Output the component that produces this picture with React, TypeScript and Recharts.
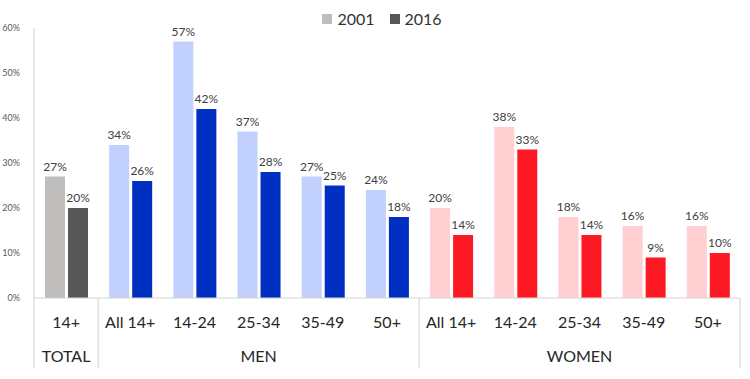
import React from 'react';
import { BarChart, Bar, XAxis, YAxis, Cell, LabelList } from 'recharts';

const categories = ['14+', 'All 14+', '14-24', '25-34', '35-49', '50+', 'All 14+', '14-24', '25-34', '35-49', '50+'];
const groupOfCategory = ['TOTAL', 'MEN', 'MEN', 'MEN', 'MEN', 'MEN', 'WOMEN', 'WOMEN', 'WOMEN', 'WOMEN', 'WOMEN'];
const values2001 = [27, 34, 57, 37, 27, 24, 20, 38, 18, 16, 16];
const values2016 = [20, 26, 42, 28, 25, 18, 14, 33, 14, 9, 10];
const yTicks = [0, 10, 20, 30, 40, 50, 60];
const seriesNames = ['2001', '2016'];
const groupLabelIndex: Record<number, string> = { 0: 'TOTAL', 3: 'MEN', 8: 'WOMEN' };
const dividerLeftIndexes = [0, 1, 6];

const colors2001: Record<string, string> = { TOTAL: '#bfbebd', MEN: '#c1d0fd', WOMEN: '#ffcfd2' };
const colors2016: Record<string, string> = { TOTAL: '#585756', MEN: '#0030c2', WOMEN: '#fe1a24' };

const data = categories.map((c, i) => ({
  id: `c${i}`,
  label: c,
  group: groupOfCategory[i],
  y2001: values2001[i],
  y2016: values2016[i],
}));

const FONT = 'Lato, "Open Sans", sans-serif';

const CategoryTick = (props: any) => {
  const { x, y, payload } = props;
  const index: number = payload.index;
  const off: number = payload.offset ?? 32;
  const lines: React.ReactNode[] = [];
  if (dividerLeftIndexes.includes(index)) {
    lines.push(<line key="l" x1={x - off} x2={x - off} y1={y} y2={y + 70} stroke="#cfcfcf" strokeWidth={1} />);
  }
  if (index === categories.length - 1) {
    lines.push(<line key="r" x1={x + off} x2={x + off} y1={y} y2={y + 70} stroke="#cfcfcf" strokeWidth={1} />);
  }
  return (
    <g>
      {lines}
      <text x={x} y={y + 30} textAnchor="middle" fontSize={16} fill="#262626" fontFamily={FONT}>
        {categories[index]}
      </text>
      {groupLabelIndex[index] !== undefined && (
        <text x={x} y={y + 64} textAnchor="middle" fontSize={16} fill="#262626" fontFamily={FONT}>
          {groupLabelIndex[index]}
        </text>
      )}
    </g>
  );
};

const LegendBlock = () => (
  <div
    style={{
      position: 'absolute',
      top: 9,
      left: 0,
      width: 750,
      display: 'flex',
      justifyContent: 'center',
      alignItems: 'center',
      fontFamily: FONT,
      fontSize: 16,
      color: '#333',
      lineHeight: '20px',
      paddingLeft: 14,
      boxSizing: 'border-box',
    }}
  >
    <span style={{ display: 'inline-block', width: 10, height: 10, background: '#bfbebd', marginRight: 5 }} />
    <span style={{ marginRight: 15 }}>{seriesNames[0]}</span>
    <span style={{ display: 'inline-block', width: 10, height: 10, background: '#585756', marginRight: 5 }} />
    <span>{seriesNames[1]}</span>
  </div>
);

const labelFmt = (v: any) => `${v}%`;

export default function App() {
  return (
    <div style={{ position: 'absolute', left: 0, top: 0, width: 750, height: 379, background: '#fff' }}>
      <BarChart
        width={750}
        height={379}
        data={data}
        margin={{ top: 28, right: 10, bottom: 0, left: 0 }}
        barSize={20}
        barGap={3}
      >
        <YAxis
          width={34}
          domain={[0, 60]}
          ticks={yTicks}
          tickFormatter={(v: number) => `${v}%`}
          tick={{ fontSize: 9, fill: '#595959', fontFamily: FONT }}
          tickLine={false}
          tickMargin={8}
          axisLine={{ stroke: '#cfcfcf' }}
          interval={0}
        />
        <XAxis
          dataKey="id"
          height={81}
          interval={0}
          tickLine={false}
          tickSize={0}
          tickMargin={0}
          axisLine={{ stroke: '#d4d4d4' }}
          tick={<CategoryTick />}
        />
        <Bar dataKey="y2001" name={seriesNames[0]} isAnimationActive={false}>
          {data.map((d, i) => (
            <Cell key={i} fill={colors2001[d.group]} />
          ))}
          <LabelList dataKey="y2001" position="top" offset={6} formatter={labelFmt} style={{ fontSize: 12, fill: '#404040', fontFamily: FONT }} />
        </Bar>
        <Bar dataKey="y2016" name={seriesNames[1]} isAnimationActive={false}>
          {data.map((d, i) => (
            <Cell key={i} fill={colors2016[d.group]} />
          ))}
          <LabelList dataKey="y2016" position="top" offset={6} formatter={labelFmt} style={{ fontSize: 12, fill: '#404040', fontFamily: FONT }} />
        </Bar>
      </BarChart>
      <LegendBlock />
    </div>
  );
}
